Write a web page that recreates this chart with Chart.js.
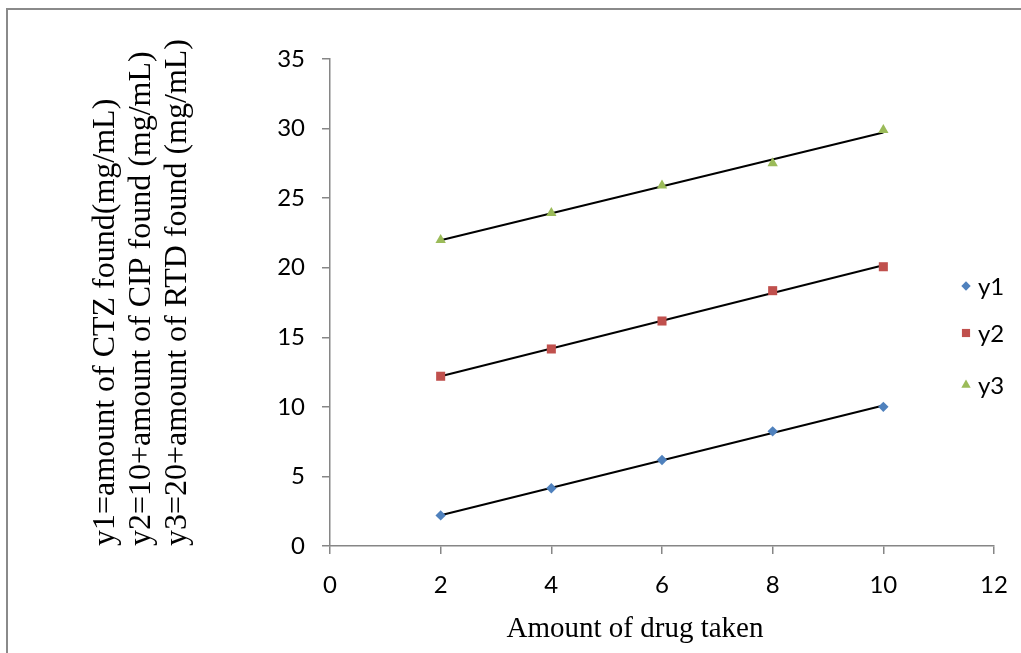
<!DOCTYPE html>
<html>
<head>
<meta charset="utf-8">
<script src="https://cdn.jsdelivr.net/npm/chart.js@4"></script>
<style>
  html, body { margin: 0; padding: 0; background: #fff; overflow: hidden; }
  #wrap { position: relative; width: 1021px; height: 653px; }
  #frame { position: absolute; left: 6px; top: 8px; width: 1100px; height: 1000px;
           border-top: 2px solid #8a8a8a; border-left: 2px solid #8a8a8a; pointer-events: none; }
  canvas { position: absolute; left: 0; top: 0; }
</style>
</head>
<body>
<div id="wrap">
  <div id="frame"></div>
  <canvas id="chart" width="1021" height="653"></canvas>
</div>
<script>
const xValues = [2, 4, 6, 8, 10];
const y1Values = [2.2, 4.15, 6.18, 8.24, 10.0];
const y2Values = [12.2, 14.16, 16.17, 18.35, 20.07];
const y3Values = [22.0, 23.93, 25.9, 27.5, 29.9];
const seriesNames = ['y1', 'y2', 'y3'];
const yTitleLines = [
    'y1=amount of CTZ found(mg/mL)',
    'y2=10+amount of CIP found (mg/mL)',
    'y3=20+amount of RTD found (mg/mL)'
];
const xTitle = 'Amount of drug taken';

const colors = ['#4F81BD', '#C0504D', '#9BBB59'];
const styles = ['rectRot', 'rect', 'triangle'];
const radii = [5.2, 6.4, 6];
const axisColor = '#868686';
const tickFont = { family: 'Lato', size: 24 };

// least squares line like Excel's linear trendline
function trend(xs, ys) {
    const n = xs.length;
    const mx = xs.reduce((a, b) => a + b, 0) / n;
    const my = ys.reduce((a, b) => a + b, 0) / n;
    let sxy = 0, sxx = 0;
    xs.forEach((x, i) => { sxy += (x - mx) * (ys[i] - my); sxx += (x - mx) * (x - mx); });
    const b = sxy / sxx;
    const a = my - b * mx;
    const x0 = xs[0], x1 = xs[n - 1];
    return [{ x: x0, y: a + b * x0 }, { x: x1, y: a + b * x1 }];
}

const allSeries = [y1Values, y2Values, y3Values];
const datasets = [];
allSeries.forEach((vals, i) => {
    datasets.push({
        type: 'line',
        label: seriesNames[i] + ' trend',
        data: trend(xValues, vals),
        borderColor: '#000',
        borderWidth: 2,
        pointRadius: 0,
        fill: false,
        order: 2
    });
});
allSeries.forEach((vals, i) => {
    datasets.push({
        type: 'scatter',
        label: seriesNames[i],
        data: xValues.map((x, k) => ({ x: x, y: vals[k] })),
        backgroundColor: colors[i],
        borderColor: colors[i],
        borderWidth: 0,
        pointStyle: styles[i],
        pointRadius: radii[i],
        pointHoverRadius: radii[i],
        order: 1
    });
});

const legendPlugin = {
    id: 'sideLegend',
    afterDraw(chart) {
        const ctx = chart.ctx;
        const rows = [286, 333, 385];
        ctx.save();
        seriesNames.forEach((name, i) => {
            ctx.fillStyle = colors[i];
            ctx.strokeStyle = colors[i];
            ctx.lineWidth = 0;
            Chart.helpers.drawPoint(ctx, { pointStyle: styles[i], radius: radii[i] * 0.9, borderWidth: 0 }, 966, rows[i]);
            ctx.fillStyle = '#000';
            ctx.font = '24px Lato';
            ctx.textAlign = 'left';
            ctx.textBaseline = 'middle';
            ctx.fillText(name, 978, rows[i] + 1);
        });
        ctx.restore();
    }
};

const xTitlePlugin = {
    id: 'xTitle',
    afterDraw(chart) {
        const ctx = chart.ctx;
        ctx.save();
        ctx.fillStyle = '#000';
        ctx.font = '29px "Liberation Serif"';
        ctx.textAlign = 'center';
        ctx.textBaseline = 'middle';
        ctx.fillText(xTitle, 635, 629);
        ctx.restore();
    }
};

new Chart(document.getElementById('chart'), {
    type: 'scatter',
    data: { datasets: datasets },
    options: {
        responsive: false,
        animation: false,
        layout: { padding: { top: 59, right: 27, left: 0, bottom: 0 } },
        plugins: {
            legend: { display: false },
            tooltip: { enabled: false }
        },
        scales: {
            x: {
                type: 'linear',
                min: 0,
                max: 12,
                ticks: { stepSize: 2, color: '#000', font: tickFont, padding: 17, maxRotation: 0 },
                grid: { drawOnChartArea: false, drawTicks: true, tickLength: 8, color: axisColor, lineWidth: 1.5 },
                border: { color: axisColor, width: 1.5 },
                afterFit(scale) {
                    scale.height = 107;
                    scale.paddingLeft = 0;
                    scale.paddingRight = 0;
                }
            },
            y: {
                type: 'linear',
                min: 0,
                max: 35,
                ticks: { stepSize: 5, color: '#000', font: tickFont, padding: 17 },
                grid: { drawOnChartArea: false, drawTicks: true, tickLength: 8, color: axisColor, lineWidth: 1.5 },
                border: { color: axisColor, width: 1.5 },
                title: {
                    display: true,
                    text: yTitleLines,
                    align: 'start',
                    color: '#000',
                    font: { family: 'Liberation Serif', size: 32, lineHeight: 1.125 },
                    padding: { top: 88, bottom: 0 }
                },
                afterFit(scale) { scale.width = 330; }
            }
        }
    },
    plugins: [legendPlugin, xTitlePlugin]
});
</script>
</body>
</html>
